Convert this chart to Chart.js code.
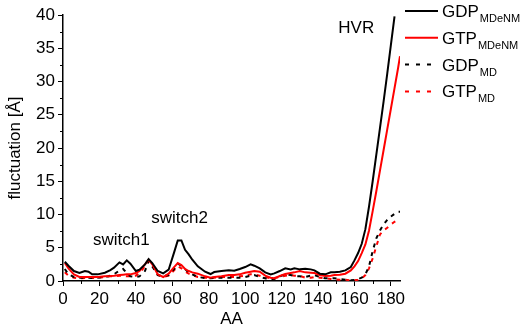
<!DOCTYPE html>
<html>
<head>
<meta charset="utf-8">
<script src="https://cdn.jsdelivr.net/npm/chart.js@4.4.1/dist/chart.umd.min.js"></script>
<style>
  html, body { margin: 0; padding: 0; background: #fff; }
  #wrap { position: relative; width: 529px; height: 330px; }
</style>
</head>
<body>
<div id="wrap"><canvas id="myChart" width="529" height="330"></canvas></div>
<script>
// ---------- data ----------
const aa = [1, 3, 6, 9, 12, 14, 16, 19, 23, 26, 28, 31, 33, 35, 37, 40, 42, 45, 47, 49,
  52, 55, 58, 61, 63, 65, 67, 69, 71, 74, 78, 81, 83, 87, 91, 94, 97, 100, 103, 105,
  108, 111, 114, 116, 119, 122, 125, 127, 130, 133, 136, 138, 141, 144, 147, 149, 152, 155, 158, 160,
  162, 164, 166, 168, 170, 172, 174, 176, 178, 180, 182, 184, 185];

const gdpMDeNM = [2.9, 2.3, 1.5, 1.2, 1.5, 1.4, 1.0, 1.0, 1.25, 1.65, 2.0, 2.8, 2.5, 3.1, 2.6, 1.5, 1.7, 2.5, 3.3, 2.7,
  1.5, 1.15, 1.7, 4.3, 6.1, 6.1, 4.7, 4.0, 3.2, 2.2, 1.4, 1.05, 1.35, 1.5, 1.6, 1.55, 1.8, 2.1, 2.5, 2.3,
  1.9, 1.3, 1.0, 1.15, 1.5, 1.9, 1.75, 1.9, 1.75, 1.85, 1.75, 1.6, 1.1, 1.0, 1.3, 1.3, 1.4, 1.6, 2.1, 3.1,
  4.2, 5.6, 7.8, 11.2, 15.0, 19.0, 23.0, 27.0, 31.2, 35.5, 39.8, null, null];

const gtpMDeNM = [2.7, 1.9, 1.0, 0.6, 0.6, 0.6, 0.6, 0.6, 0.7, 0.75, 0.8, 0.9, 0.95, 1.0, 1.0, 1.2, 1.5, 2.5, 3.2, 2.5,
  1.0, 0.6, 1.1, 2.1, 2.7, 2.4, 1.8, 1.5, 1.3, 1.1, 0.7, 0.5, 0.6, 0.7, 0.9, 0.9, 1.0, 1.25, 1.4, 1.5,
  1.4, 0.8, 0.5, 0.4, 0.75, 1.05, 1.2, 1.3, 1.5, 1.3, 1.25, 1.2, 0.9, 0.75, 0.8, 0.9, 0.95, 1.1, 1.6, 2.2,
  3.0, 4.2, 5.5, 7.6, 10.5, 13.5, 16.6, 19.7, 22.8, 25.9, 29.0, 32.1, 33.8];

const gdpMD = [1.8, 1.0, 0.6, 0.5, 0.5, 0.5, 0.45, 0.5, 0.6, 0.8, 1.0, 1.6, 1.8, 1.2, 0.7, 0.6, 0.7, 1.5, 3.0, 2.2,
  0.9, 0.7, 0.9, 1.8, 2.6, 2.3, 1.8, 1.3, 1.0, 0.6, 0.45, 0.4, 0.45, 0.5, 0.5, 0.5, 0.5, 0.6, 0.8, 0.9,
  0.6, 0.4, 0.2, 0.3, 0.7, 1.0, 0.9, 0.75, 0.7, 0.6, 0.8, 0.9, 0.6, 0.4, 0.4, 0.4, 0.3, 0.2, 0.1, 0.15,
  0.3, 0.5, 1.0, 2.2, 4.5, 6.4, 7.6, 8.5, 9.2, 9.7, 10.1, 10.4, 10.4];

const gtpMD = [1.3, 0.8, 0.5, 0.4, 0.45, 0.5, 0.45, 0.5, 0.6, 0.7, 0.7, 0.8, 0.8, 0.7, 0.7, 0.8, 1.2, 2.2, 3.0, 2.4,
  0.9, 0.6, 0.8, 1.6, 2.2, 1.9, 1.4, 1.1, 0.9, 0.6, 0.5, 0.5, 0.5, 0.6, 0.6, 0.6, 0.7, 0.8, 1.0, 1.0,
  0.8, 0.6, 0.4, 0.45, 0.6, 0.8, 0.9, 0.8, 0.75, 0.5, 0.5, 0.6, 0.5, 0.4, 0.3, 0.25, 0.2, 0.2, 0.1, 0.1,
  0.2, 0.4, 0.9, 1.9, 3.4, 5.2, 7.0, 7.6, 8.0, 8.5, 8.9, 9.2, null];

const xTicks = [0, 20, 40, 60, 80, 100, 120, 140, 160, 180];
const xMinor = [10, 30, 50, 70, 90, 110, 130, 150, 170];
const yMinor = [2.5, 7.5, 12.5, 17.5, 22.5, 27.5, 32.5, 37.5];

const legendNames = ["GDP", "GTP", "GDP", "GTP"];
const legendSubs = ["MDeNM", "MDeNM", "MD", "MD"];

const notes = ["switch1", "switch2", "HVR"];
const noteAA = [32, 64, 161];
const noteVal = [5.4, 8.65, 37.3];

const FONT = "'Liberation Sans', Arial, sans-serif";

// ---------- helpers ----------
function pts(arr) {
  return aa.map((x, i) => ({ x: x, y: arr[i] }));
}

// minor ticks, annotation labels, legend with subscripts
const extras = {
  id: "extras",
  afterDraw(chart) {
    const ctx = chart.ctx;
    const xs = chart.scales.x;
    const ys = chart.scales.y;
    const area = chart.chartArea;
    ctx.save();
    ctx.strokeStyle = "#000";
    ctx.lineWidth = 1;
    xMinor.forEach(v => {
      const px = Math.round(xs.getPixelForValue(v)) + 0.5;
      ctx.beginPath();
      ctx.moveTo(px, area.bottom);
      ctx.lineTo(px, area.bottom + 3);
      ctx.stroke();
    });
    yMinor.forEach(v => {
      const py = Math.round(ys.getPixelForValue(v)) + 0.5;
      ctx.beginPath();
      ctx.moveTo(area.left, py);
      ctx.lineTo(area.left - 3, py);
      ctx.stroke();
    });

    // annotations
    ctx.fillStyle = "#000";
    ctx.font = "17px " + FONT;
    ctx.textAlign = "center";
    ctx.textBaseline = "alphabetic";
    notes.forEach((t, i) => {
      ctx.fillText(t, xs.getPixelForValue(noteAA[i]), ys.getPixelForValue(noteVal[i]));
    });

    // legend
    ctx.textAlign = "left";
    chart.data.datasets.forEach((ds, i) => {
      const y = area.top - 4 + i * 26.8;
      const x0 = area.right + 5;
      ctx.beginPath();
      ctx.strokeStyle = ds.borderColor;
      ctx.lineWidth = 2;
      ctx.setLineDash(ds.borderDash ? [4, 7] : []);
      ctx.moveTo(x0, y);
      ctx.lineTo(x0 + 33, y);
      ctx.stroke();
      ctx.setLineDash([]);
      ctx.font = "17px " + FONT;
      ctx.fillStyle = "#000";
      ctx.fillText(legendNames[i], x0 + 37, y + 6);
      const w = ctx.measureText(legendNames[i]).width;
      ctx.font = "11px " + FONT;
      ctx.fillText(legendSubs[i], x0 + 37 + w + 1, y + 11);
    });
    ctx.restore();
  }
};

const ctx = document.getElementById("myChart").getContext("2d");
const chart = new Chart(ctx, {
  type: "line",
  data: {
    datasets: [
      { label: "GDP MDeNM", data: pts(gdpMDeNM), borderColor: "#000000", borderWidth: 2 },
      { label: "GTP MDeNM", data: pts(gtpMDeNM), borderColor: "#ff0000", borderWidth: 2 },
      { label: "GDP MD", data: pts(gdpMD), borderColor: "#000000", borderWidth: 2, borderDash: [4, 5] },
      { label: "GTP MD", data: pts(gtpMD), borderColor: "#ff0000", borderWidth: 2, borderDash: [4, 5] }
    ]
  },
  options: {
    responsive: false,
    animation: false,
    devicePixelRatio: 1,
    elements: { point: { radius: 0 }, line: { tension: 0, fill: false } },
    layout: { padding: { left: 0, right: 129, top: 15, bottom: 0 } },
    plugins: { legend: { display: false }, tooltip: { enabled: false } },
    scales: {
      x: {
        type: "linear",
        min: 0,
        max: 185,
        afterBuildTicks: s => { s.ticks = xTicks.map(v => ({ value: v })); },
        afterFit: s => { s.height = 49; },
        grid: { drawOnChartArea: false, tickLength: 5, color: "#000", tickWidth: 1 },
        border: { color: "#000", width: 1.5 },
        ticks: { color: "#000", font: { family: FONT, size: 17 }, padding: 3, maxRotation: 0 },
        title: { display: true, text: "AA", color: "#000", font: { family: FONT, size: 17 }, padding: { top: 0, bottom: 0 } }
      },
      y: {
        min: 0,
        max: 40,
        ticks: { stepSize: 5, color: "#000", font: { family: FONT, size: 17 }, padding: 3 },
        afterFit: s => { s.width = 63; },
        grid: { drawOnChartArea: false, tickLength: 5, color: "#000", tickWidth: 1 },
        border: { color: "#000", width: 1.5 },
        title: { display: true, text: "fluctuation [Å]", color: "#000", font: { family: FONT, size: 17 }, padding: { top: 5, bottom: 0 } }
      }
    }
  },
  plugins: [extras]
});
</script>
</body>
</html>
